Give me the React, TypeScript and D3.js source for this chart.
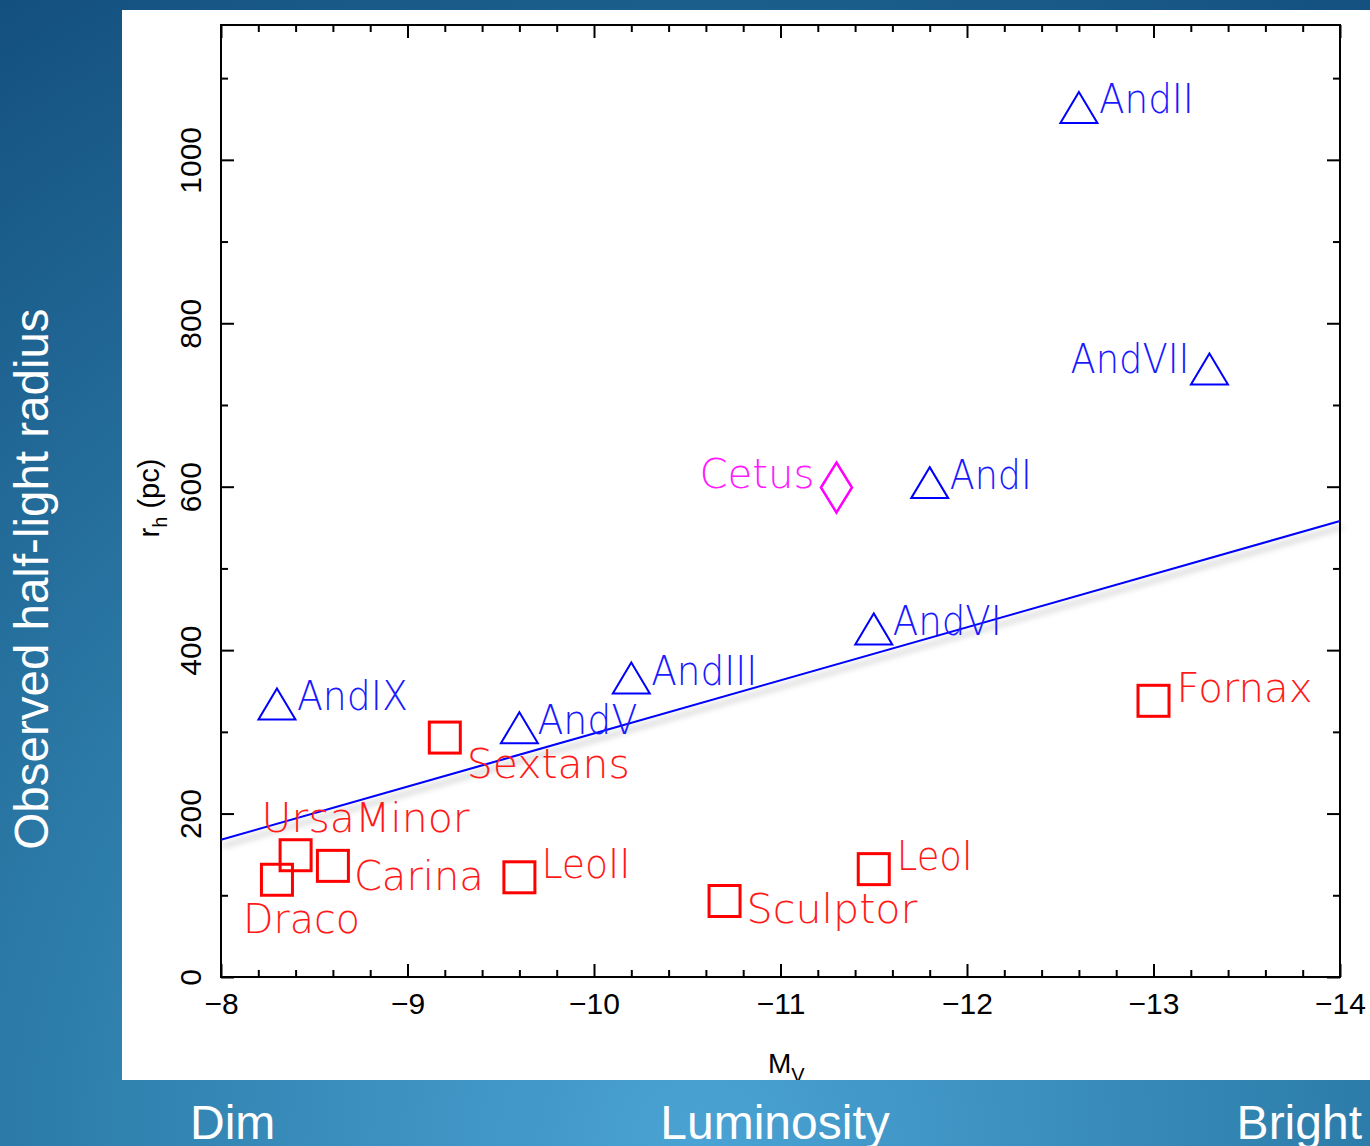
import React, { useEffect, useRef } from "react";
import * as d3 from "d3";

// Milky Way dwarf spheroidals (red squares)
const mwNames = ["Draco", "UrsaMinor", "Carina", "Sextans", "LeoII", "Sculptor", "LeoI", "Fornax"];
const mwMv = [-8.3, -8.4, -8.6, -9.2, -9.6, -10.7, -11.5, -13.0];
const mwRh = [119, 149, 136, 293, 122, 93, 132, 338];

// M31 satellites (blue triangles)
const m31Names = ["AndIX", "AndV", "AndIII", "AndVI", "AndI", "AndVII", "AndII"];
const m31Mv = [-8.3, -9.6, -10.2, -11.5, -11.8, -13.3, -12.6];
const m31Rh = [334, 305, 366, 426, 605, 744, 1064];

// isolated dwarf (magenta diamond)
const isoNames = ["Cetus"];
const isoMv = [-11.3];
const isoRh = [599];

// fitted relation
const fitMv = [-8, -14];
const fitRh = [168, 558];

const xMajor = [-8, -9, -10, -11, -12, -13, -14];
const yMajor = [0, 200, 400, 600, 800, 1000];

// label layout: [dx, dy, anchor, width]
const labelPos: Record<string, [number, number, string, number]> = {
  Draco: [-34, 53, "start", 117],
  UrsaMinor: [-34, -23, "start", 208],
  Carina: [21, 24, "start", 130],
  Sextans: [22, 40, "start", 163],
  LeoII: [22, 1, "start", 89],
  Sculptor: [22, 22, "start", 171],
  LeoI: [23, 1, "start", 76],
  Fornax: [23, 1, "start", 136],
  AndIX: [20, 6, "start", 111],
  AndV: [18, 6, "start", 100],
  AndIII: [20, 7, "start", 106],
  AndVI: [19, 6, "start", 109],
  AndI: [20, 6, "start", 82],
  AndVII: [-20, 4, "end", 119],
  AndII: [20, 5, "start", 95],
  Cetus: [-22, 0, "end", 115],
};

const W = 1370, H = 1146;
const L = 221, R = 1340, T = 25, B = 977;

export default function App() {
  const ref = useRef<SVGSVGElement>(null);

  useEffect(() => {
    const svg = d3.select(ref.current);
    svg.selectAll("*").remove();

    const defs = svg.append("defs");
    const bg = defs.append("radialGradient").attr("id", "bg")
      .attr("gradientUnits", "userSpaceOnUse")
      .attr("cx", 700).attr("cy", 1146).attr("r", 1350);
    bg.append("stop").attr("offset", 0).attr("stop-color", "#4aa3d4");
    bg.append("stop").attr("offset", 0.45).attr("stop-color", "#2f80ad");
    bg.append("stop").attr("offset", 1).attr("stop-color", "#134f7e");
    const sh = defs.append("filter").attr("id", "sh")
      .attr("x", "-10%").attr("y", "-50%").attr("width", "120%").attr("height", "200%");
    sh.append("feDropShadow").attr("dx", 2).attr("dy", 6).attr("stdDeviation", 3)
      .attr("flood-color", "#000").attr("flood-opacity", 0.35);
    defs.append("clipPath").attr("id", "panel").append("rect")
      .attr("x", 122).attr("y", 10).attr("width", W - 122).attr("height", 1070);

    // background
    svg.append("rect").attr("width", W).attr("height", H).attr("fill", "url(#bg)");
    svg.append("rect").attr("x", 122).attr("y", 10).attr("width", W - 122).attr("height", 1070).attr("fill", "#fff");

    const x = d3.scaleLinear().domain([-8, -14]).range([L, R]);
    const y = d3.scaleLinear().domain([0, 1165]).range([B, T]);

    const g = svg.append("g").attr("clip-path", "url(#panel)");

    const xMinor = d3.range(0, 31).map((i) => -8 - i * 0.2).filter((v) => Math.abs(v - Math.round(v)) > 1e-6);
    const yMinor = d3.range(100, 1200, 200);

    const style = (sel: any) => {
      sel.select(".domain").remove();
      sel.selectAll("line").attr("stroke", "#000").attr("stroke-width", 2);
    };
    const fmt = (d: any) => d3.format("d")(d);

    // bottom
    g.append("g").attr("transform", `translate(0,${B})`)
      .call(d3.axisBottom(x).tickValues(xMajor).tickSizeInner(-13).tickSizeOuter(0).tickPadding(16).tickFormat(fmt))
      .call(style)
      .call((s) => s.selectAll("text").attr("font-size", 30).attr("font-family", "'Liberation Sans', Arial, sans-serif").attr("fill", "#000"));
    g.append("g").attr("transform", `translate(0,${B})`)
      .call(d3.axisBottom(x).tickValues(xMinor).tickSizeInner(-7).tickSizeOuter(0).tickFormat(() => ""))
      .call(style);
    // top
    g.append("g").attr("transform", `translate(0,${T})`)
      .call(d3.axisTop(x).tickValues(xMajor).tickSizeInner(-13).tickSizeOuter(0).tickFormat(() => ""))
      .call(style);
    g.append("g").attr("transform", `translate(0,${T})`)
      .call(d3.axisTop(x).tickValues(xMinor).tickSizeInner(-7).tickSizeOuter(0).tickFormat(() => ""))
      .call(style);
    // left
    g.append("g").attr("transform", `translate(${L},0)`)
      .call(d3.axisLeft(y).tickValues(yMajor).tickSizeInner(-13).tickSizeOuter(0).tickFormat(fmt))
      .call(style)
      .call((s) => s.selectAll("text")
        .attr("x", null).attr("dy", null)
        .attr("text-anchor", "middle")
        .attr("transform", "translate(-20,0) rotate(-90)")
        .attr("font-size", 30).attr("font-family", "'Liberation Sans', Arial, sans-serif").attr("fill", "#000"));
    g.append("g").attr("transform", `translate(${L},0)`)
      .call(d3.axisLeft(y).tickValues(yMinor).tickSizeInner(-7).tickSizeOuter(0).tickFormat(() => ""))
      .call(style);
    // right
    g.append("g").attr("transform", `translate(${R},0)`)
      .call(d3.axisRight(y).tickValues(yMajor).tickSizeInner(-13).tickSizeOuter(0).tickFormat(() => ""))
      .call(style);
    g.append("g").attr("transform", `translate(${R},0)`)
      .call(d3.axisRight(y).tickValues(yMinor).tickSizeInner(-7).tickSizeOuter(0).tickFormat(() => ""))
      .call(style);

    // frame
    g.append("rect").attr("x", L).attr("y", T).attr("width", R - L).attr("height", B - T)
      .attr("fill", "none").attr("stroke", "#000").attr("stroke-width", 2);

    // axis titles
    const rt = g.append("text").attr("transform", "translate(159,498) rotate(-90)")
      .attr("text-anchor", "middle").attr("font-size", 29)
      .attr("font-family", "'Liberation Sans', Arial, sans-serif").attr("fill", "#000");
    rt.append("tspan").text("r");
    rt.append("tspan").attr("dy", 8).attr("font-size", 20).text("h");
    rt.append("tspan").attr("dy", -8).text(" (pc)");

    const mt = g.append("text").attr("x", 768).attr("y", 1073)
      .attr("font-size", 28).attr("font-family", "'Liberation Sans', Arial, sans-serif").attr("fill", "#000");
    mt.append("tspan").text("M");
    mt.append("tspan").attr("dy", 9).attr("font-size", 20).text("V");

    // fitted line
    const fit = fitMv.map((m, i) => [m, fitRh[i]] as [number, number]);
    g.append("path").datum(fit)
      .attr("d", d3.line<[number, number]>().x((d) => x(d[0])).y((d) => y(d[1])))
      .attr("fill", "none").attr("stroke", "#0000ff").attr("stroke-width", 2)
      .attr("filter", "url(#sh)");

    const mw = mwNames.map((n, i) => ({ n, mv: mwMv[i], rh: mwRh[i] }));
    const m31 = m31Names.map((n, i) => ({ n, mv: m31Mv[i], rh: m31Rh[i] }));
    const iso = isoNames.map((n, i) => ({ n, mv: isoMv[i], rh: isoRh[i] }));

    g.selectAll(".sq").data(mw).join("rect").attr("class", "sq")
      .attr("x", (d) => x(d.mv) - 15.5).attr("y", (d) => y(d.rh) - 15.5)
      .attr("width", 31).attr("height", 31)
      .attr("fill", "none").attr("stroke", "#ff0000").attr("stroke-width", 3);

    g.selectAll(".tri").data(m31).join("path").attr("class", "tri")
      .attr("d", (d) => {
        const cx = x(d.mv), cy = y(d.rh);
        return `M${cx},${cy - 15.5}L${cx + 18.5},${cy + 15.5}L${cx - 18.5},${cy + 15.5}Z`;
      })
      .attr("fill", "none").attr("stroke", "#0000ff").attr("stroke-width", 2);

    g.selectAll(".dia").data(iso).join("path").attr("class", "dia")
      .attr("d", (d) => {
        const cx = x(d.mv), cy = y(d.rh);
        return `M${cx},${cy - 25}L${cx + 15.5},${cy}L${cx},${cy + 25}L${cx - 15.5},${cy}Z`;
      })
      .attr("fill", "none").attr("stroke", "#ff00ff").attr("stroke-width", 2.5);

    const labels = [
      ...mw.map((d) => ({ ...d, c: "#ff1a1a" })),
      ...m31.map((d) => ({ ...d, c: "#1a1aff" })),
      ...iso.map((d) => ({ ...d, c: "#ff1aff" })),
    ];
    g.selectAll(".lab").data(labels).join("text").attr("class", "lab")
      .attr("x", (d) => x(d.mv) + labelPos[d.n][0])
      .attr("y", (d) => y(d.rh) + labelPos[d.n][1])
      .attr("text-anchor", (d) => labelPos[d.n][2])
      .attr("textLength", (d) => labelPos[d.n][3])
      .attr("lengthAdjust", "spacingAndGlyphs")
      .attr("font-size", 41).attr("font-weight", 200)
      .attr("font-family", "'DejaVu Sans', sans-serif")
      .attr("fill", (d) => d.c)
      .text((d) => d.n);

    // slide texts
    svg.append("text").attr("transform", "translate(48,579) rotate(-90)")
      .attr("text-anchor", "middle").attr("font-size", 47.5)
      .attr("font-family", "'Liberation Sans', Arial, sans-serif").attr("fill", "#fff")
      .text("Observed half-light radius");
    const bottom = [["Dim", 190, "start"], ["Luminosity", 775, "middle"], ["Bright", 1362, "end"]];
    svg.selectAll(".bt").data(bottom).join("text").attr("class", "bt")
      .attr("x", (d) => d[1] as number).attr("y", 1139)
      .attr("text-anchor", (d) => d[2] as string)
      .attr("font-size", 48).attr("font-family", "'Liberation Sans', Arial, sans-serif")
      .attr("fill", "#fff").text((d) => d[0] as string);
  }, []);

  return (
    <div style={{ position: "absolute", left: 0, top: 0 }}>
      <svg ref={ref} width={W} height={H} style={{ display: "block" }} />
    </div>
  );
}
